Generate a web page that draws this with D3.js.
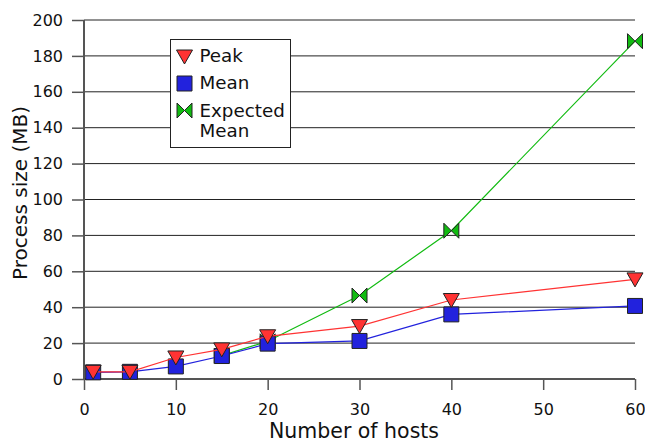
<!DOCTYPE html>
<html>
<head>
<style>
  body { margin: 0; background: #fff; }
  text { font-family: "DejaVu Sans", sans-serif; fill: #111; }
  .grid line { stroke: #222; stroke-width: 1px; }
</style>
</head>
<body>
<div id="chart"></div>
<script src="https://d3js.org/d3.v7.min.js"></script>
<script>
// data
const peakHosts = [1, 5, 10, 15, 20, 30, 40, 60];
const peakValues = [4, 4, 12, 16.5, 23.8, 29.5, 44, 55.5];
const meanHosts = [1, 5, 10, 15, 20, 30, 40, 60];
const meanValues = [3.7, 4, 7, 12.8, 19.7, 21.2, 36, 40.7];
const expectedHosts = [15, 20, 30, 40, 60];
const expectedValues = [13, 21, 46.5, 82.6, 188.2];
const xTicks = [0, 10, 20, 30, 40, 50, 60];
const yTicks = [0, 20, 40, 60, 80, 100, 120, 140, 160, 180, 200];

const width = 645, height = 442;

const svg = d3.select("#chart").append("svg")
    .attr("width", width)
    .attr("height", height);

const x = d3.scaleLinear().domain([0, 60]).range([84, 635]);
const y = d3.scaleLinear().domain([0, 200]).range([379, 20]);

// horizontal grid
svg.append("g").attr("class", "grid")
    .selectAll("line")
    .data(yTicks.filter(d => d > 0))
    .enter().append("line")
    .attr("x1", x(0)).attr("x2", x(60))
    .attr("y1", d => y(d)).attr("y2", d => y(d));

// axes
const yAxis = svg.append("g")
    .attr("transform", `translate(${x(0)},0)`)
    .call(d3.axisLeft(y).tickValues(yTicks).tickSize(12).tickPadding(9));
const xAxis = svg.append("g")
    .attr("transform", `translate(0,${y(0)})`)
    .call(d3.axisBottom(x).tickValues(xTicks).tickSize(11).tickPadding(14));

[yAxis, xAxis].forEach(a => {
    a.select(".domain").attr("stroke", "#555").attr("stroke-width", 2);
    a.selectAll(".tick line").attr("stroke", "#555").attr("stroke-width", 1.5);
    a.selectAll(".tick text").style("font-size", "16px").attr("fill", "#111");
});
xAxis.select(".domain").attr("d", `M${x(0)},0H${x(60)}`);
yAxis.select(".domain").attr("d", `M0,${y(0)}V${y(200)}`);

// axis titles
svg.append("text")
    .attr("x", 354).attr("y", 438)
    .attr("text-anchor", "middle")
    .style("font-size", "20.5px")
    .text("Number of hosts");
svg.append("text")
    .attr("transform", `translate(27,193) rotate(-90)`)
    .attr("text-anchor", "middle")
    .style("font-size", "20px")
    .text("Process size (MB)");

// marker shapes
const tri = "M-8,-6.5L8,-6.5L0,7.5Z";
const sq = "M-7.5,-7.5H7.5V7.5H-7.5Z";
const bow = "M-7.5,-7.5L0,0L7.5,-7.5V7.5L0,0L-7.5,7.5Z";

const series = [
    { hosts: expectedHosts, values: expectedValues, color: "#11bb11", shape: bow },
    { hosts: meanHosts, values: meanValues, color: "#2222dd", shape: sq },
    { hosts: peakHosts, values: peakValues, color: "#ff3333", shape: tri }
];

const line = d3.line().x(d => x(d[0])).y(d => y(d[1]));

series.forEach(s => {
    const pts = s.hosts.map((h, i) => [h, s.values[i]]);
    svg.append("path")
        .datum(pts)
        .attr("fill", "none")
        .attr("stroke", s.color)
        .attr("stroke-width", 1.2)
        .attr("d", line);
    svg.append("g").selectAll("path")
        .data(pts)
        .enter().append("path")
        .attr("d", s.shape)
        .attr("transform", d => `translate(${x(d[0])},${y(d[1])})`)
        .attr("fill", s.color)
        .attr("stroke", "#222")
        .attr("stroke-width", 1);
});

// legend
const lg = svg.append("g").attr("transform", "translate(170.5,39.5)");
lg.append("rect")
    .attr("width", 120).attr("height", 108)
    .attr("fill", "#fff").attr("stroke", "#222").attr("stroke-width", 1);
const legendItems = [
    { label: ["Peak"], shape: tri, color: "#ff3333", y: 17, base: 22.5 },
    { label: ["Mean"], shape: sq, color: "#2222dd", y: 44, base: 49.5 },
    { label: ["Expected", "Mean"], shape: bow, color: "#11bb11", y: 71, base: 77 }
];
legendItems.forEach(it => {
    lg.append("path")
        .attr("d", it.shape)
        .attr("transform", `translate(14,${it.y})`)
        .attr("fill", it.color)
        .attr("stroke", "#222");
    const t = lg.append("text")
        .attr("x", 29).attr("y", it.base)
        .style("font-size", "18.3px");
    it.label.forEach((l, i) => {
        t.append("tspan").attr("x", 29).attr("dy", i === 0 ? 0 : 20).text(l);
    });
});
</script>
</body>
</html>
